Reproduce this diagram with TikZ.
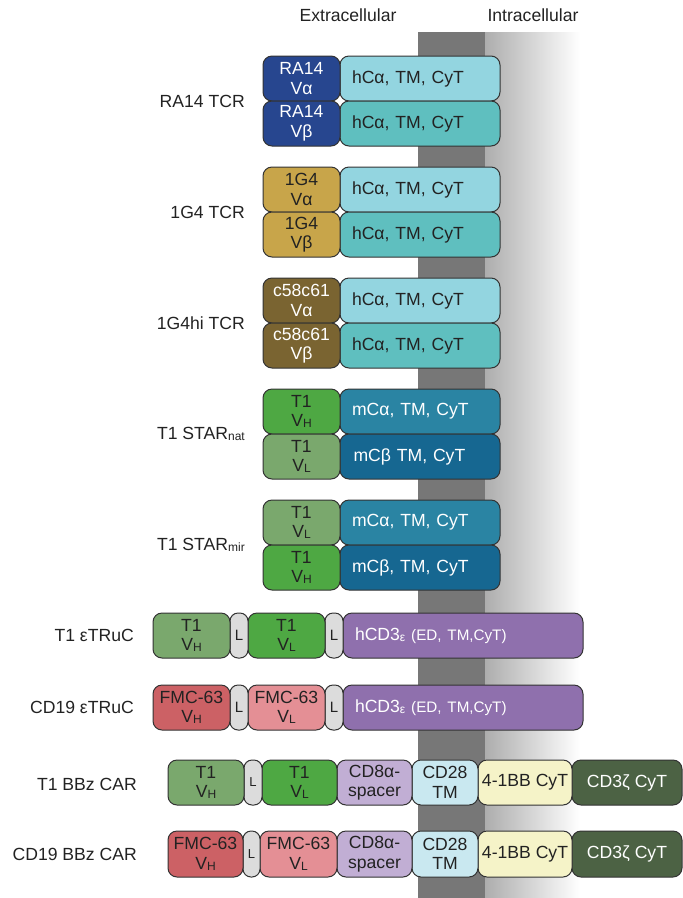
\documentclass[tikz,border=0pt]{standalone}
\usepackage{fontspec}
\setmainfont{Liberation Sans}
\definecolor{band}{HTML}{777777}
\definecolor{raV}{HTML}{27468F}
\definecolor{hCa}{HTML}{93D5E0}
\definecolor{hCb}{HTML}{5FBFBF}
\definecolor{gold}{HTML}{C8A54A}
\definecolor{olive}{HTML}{7A6431}
\definecolor{brgreen}{HTML}{4EA843}
\definecolor{mugreen}{HTML}{7AA86D}
\definecolor{mCa}{HTML}{2A84A3}
\definecolor{mCb}{HTML}{166791}
\definecolor{lgray}{HTML}{DCDCDC}
\definecolor{purp}{HTML}{8F70AD}
\definecolor{fmcH}{HTML}{CC6165}
\definecolor{fmcL}{HTML}{E48F95}
\definecolor{lav}{HTML}{C1AED4}
\definecolor{cdtm}{HTML}{C9E8F0}
\definecolor{cream}{HTML}{F5F3C8}
\definecolor{dkgreen}{HTML}{4C6244}
\definecolor{txt}{HTML}{222222}
\newcommand\sbs[1]{\raisebox{-1pt}{\fontsize{12}{12}\selectfont #1}}
\newcommand\bx[7]{% name,x1,y1,x2,y2,style,text
  \pgfmathsetmacro\cx{(#2+#4)/2}\pgfmathsetmacro\cy{(#3+#5)/2}%
  \pgfmathsetmacro\bw{#4-#2}\pgfmathsetmacro\bh{#5-#3}%
  \node[box,#6,minimum width=\bw pt,minimum height=\bh pt] (#1) at (\cx,\cy) {#7};}
\newcommand\bxl[7]{% left-aligned text
  \pgfmathsetmacro\cx{(#2+#4)/2}\pgfmathsetmacro\cy{(#3+#5)/2}%
  \pgfmathsetmacro\bw{#4-#2-24}\pgfmathsetmacro\bh{#5-#3}%
  \node[box,#6,inner xsep=12pt,text width=\bw pt,align=left,minimum height=\bh pt] (#1) at (\cx,\cy) {#7};}
\tikzset{
  box/.style={draw=black!80, line width=1pt, rounded corners=9pt, inner sep=0pt,
    align=center, font=\fontsize{17.6}{19.5}\selectfont, text=txt},
  wt/.style={text=white},
  lbl/.style={anchor=east, inner sep=0pt, font=\fontsize{17.6}{20}\selectfont, text=txt},
  ttl/.style={inner sep=0pt, font=\fontsize{17.6}{20}\selectfont, text=txt},
  lnk/.style={fill=lgray,rounded corners=8pt,font=\fontsize{15}{17}\selectfont},
}
\begin{document}
\begin{tikzpicture}[x=1pt,y=-1pt]
\useasboundingbox (0,0) rectangle (683,898);
% membrane band
\fill[band] (418,32) rectangle (485,898);
\shade[left color=gray!64, right color=white] (485,32) rectangle (580,898);
\node[ttl] (ext) at (348,15) {Extracellular};
\node[ttl] (int) at (533,15) {Intracellular};

% RA14
\bxl{ra1}{340}{56}{500}{101}{fill=hCa}{hCα, TM, CyT}
\bxl{ra2}{340}{101}{500}{146}{fill=hCb}{hCα, TM, CyT}
\bx{raa}{263}{56}{340}{101}{fill=raV,wt}{RA14\\Vα}
\bx{rab}{263}{101}{340}{146}{fill=raV,wt}{RA14\\Vβ}
\node[lbl] (lra) at (245,101) {RA14 TCR};
% 1G4
\bxl{ga1}{340}{167}{500}{212}{fill=hCa}{hCα, TM, CyT}
\bxl{ga2}{340}{212}{500}{257}{fill=hCb}{hCα, TM, CyT}
\bx{gaa}{263}{167}{340}{212}{fill=gold}{1G4\\Vα}
\bx{gab}{263}{212}{340}{257}{fill=gold}{1G4\\Vβ}
\node[lbl] (lg) at (245,212) {1G4 TCR};
% 1G4hi
\bxl{ha1}{340}{278}{500}{323}{fill=hCa}{hCα, TM, CyT}
\bxl{ha2}{340}{323}{500}{368}{fill=hCb}{hCα, TM, CyT}
\bx{haa}{263}{278}{340}{323}{fill=olive,wt}{c58c61\\Vα}
\bx{hab}{263}{323}{340}{368}{fill=olive,wt}{c58c61\\Vβ}
\node[lbl] (lh) at (245,323) {1G4hi TCR};
% STAR nat
\bxl{sn1}{340}{389}{500}{434}{fill=mCa,wt}{mCα, TM, CyT}
\bxl{sn2}{340}{434}{500}{479}{fill=mCb,wt}{\hspace*{1.5pt}mCβ TM, CyT}
\bx{sna}{263}{389}{340}{434}{fill=brgreen}{T1\\V\sbs{H}}
\bx{snb}{263}{434}{340}{479}{fill=mugreen}{T1\\V\sbs{L}}
\node[lbl] (lsn) at (245,434) {T1 STAR\sbs{nat}};
% STAR mir
\bxl{sm1}{340}{500}{500}{545}{fill=mCa,wt}{mCα, TM, CyT}
\bxl{sm2}{340}{545}{500}{590}{fill=mCb,wt}{mCβ, TM, CyT}
\bx{sma}{263}{500}{340}{545}{fill=mugreen}{T1\\V\sbs{L}}
\bx{smb}{263}{545}{340}{590}{fill=brgreen}{T1\\V\sbs{H}}
\node[lbl] (lsm) at (245,545) {T1 STAR\sbs{mir}};

% eTRuC
\bxl{e1d}{343}{613}{583}{658}{fill=purp,wt}{hCD3\sbs{ε} {\fontsize{15.2}{17}\selectfont (ED, TM,CyT)}}
\bx{e1l2}{325}{613}{343}{658}{lnk}{L}
\bx{e1b}{248}{613}{325}{658}{fill=brgreen}{T1\\V\sbs{L}}
\bx{e1l1}{230}{613}{248}{658}{lnk}{L}
\bx{e1a}{153}{613}{230}{658}{fill=mugreen}{T1\\V\sbs{H}}
\node[lbl] (le1) at (134,635) {T1 εTRuC};

\bxl{e2d}{343}{685}{583}{730}{fill=purp,wt}{hCD3\sbs{ε} {\fontsize{15.2}{17}\selectfont (ED, TM,CyT)}}
\bx{e2l2}{325}{685}{343}{730}{lnk}{L}
\bx{e2b}{248}{685}{325}{730}{fill=fmcL}{FMC-63\\V\sbs{L}}
\bx{e2l1}{230}{685}{248}{730}{lnk}{L}
\bx{e2a}{153}{685}{230}{730}{fill=fmcH}{FMC-63\\V\sbs{H}}
\node[lbl] (le2) at (134,707) {CD19 εTRuC};

% CARs
\bx{c1z}{572}{760}{682}{805}{fill=dkgreen,wt}{CD3ζ CyT}
\bx{c1b}{478}{760}{572}{805}{fill=cream}{4-1BB CyT}
\bx{c1t}{412}{760}{478}{805}{fill=cdtm}{CD28\\TM}
\bx{c1s}{337}{760}{412}{805}{fill=lav}{CD8α-\\spacer}
\bx{c1v}{262}{760}{337}{805}{fill=brgreen}{T1\\V\sbs{L}}
\bx{c1l}{244}{760}{262}{805}{lnk,font=\fontsize{13}{15}\selectfont}{L}
\bx{c1h}{168}{760}{244}{805}{fill=mugreen}{T1\\V\sbs{H}}
\node[lbl] (lc1) at (137,784) {T1 BBz CAR};

\bx{c2z}{572}{831}{682}{877}{fill=dkgreen,wt}{CD3ζ CyT}
\bx{c2b}{478}{831}{572}{877}{fill=cream}{4-1BB CyT}
\bx{c2t}{412}{831}{478}{877}{fill=cdtm}{CD28\\TM}
\bx{c2s}{337}{831}{412}{877}{fill=lav}{CD8α-\\spacer}
\bx{c2v}{260}{831}{337}{877}{fill=fmcL}{FMC-63\\V\sbs{L}}
\bx{c2l}{243}{831}{260}{877}{lnk,font=\fontsize{13}{15}\selectfont}{L}
\bx{c2h}{168}{831}{243}{877}{fill=fmcH}{FMC-63\\V\sbs{H}}
\node[lbl] (lc2) at (137,854) {CD19 BBz CAR};
\end{tikzpicture}
\end{document}
